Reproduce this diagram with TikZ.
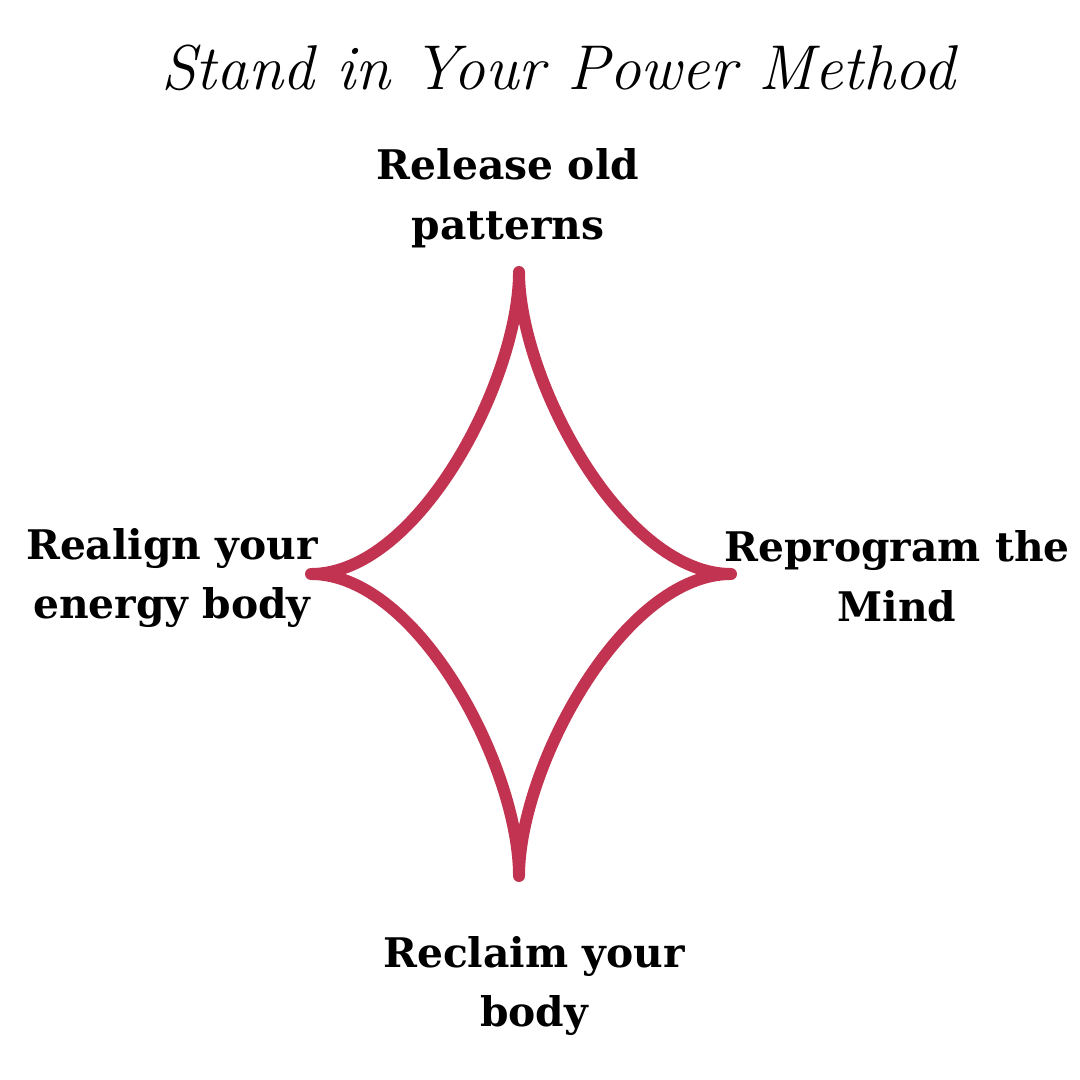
\documentclass[tikz,border=0pt]{standalone}
\usepackage{fontspec}
\setmainfont{DejaVu Serif}
\newfontfamily\titlefont{Latin Modern Roman}
\definecolor{starred}{HTML}{C13350}
\begin{document}
\begin{tikzpicture}[x=0.01cm,y=-0.01cm,
    steplabel/.style={font=\bfseries\fontsize{11.6}{17}\selectfont,align=center},
    arc/.style={draw=starred,line width=3.4pt,line cap=round,line join=round}]
  \useasboundingbox (0,0) rectangle (1080,1080);

  \node[font=\titlefont\itshape\fontsize{18}{22}\selectfont] (title) at (558,68) {Stand in Your Power Method};

  \coordinate (top)    at (519,272);
  \coordinate (right)  at (731,574);
  \coordinate (bottom) at (519,876);
  \coordinate (left)   at (311,574);

  \draw[arc] (top) to[out=-90,in=180,looseness=0.75] (right)
                   to[out=180,in=90,looseness=0.75] (bottom)
                   to[out=90,in=0,looseness=0.75] (left)
                   to[out=0,in=-90,looseness=0.75] (top);

  \node[steplabel] (release)   at (508,198) {Release old\\patterns};
  \node[steplabel] (reprogram) at (897,576) {Reprogram the\\Mind};
  \node[steplabel] (realign)   at (172,578) {Realign your\\energy body};
  \node[steplabel] (reclaim)   at (534,986) {Reclaim your\\body};
\end{tikzpicture}
\end{document}
